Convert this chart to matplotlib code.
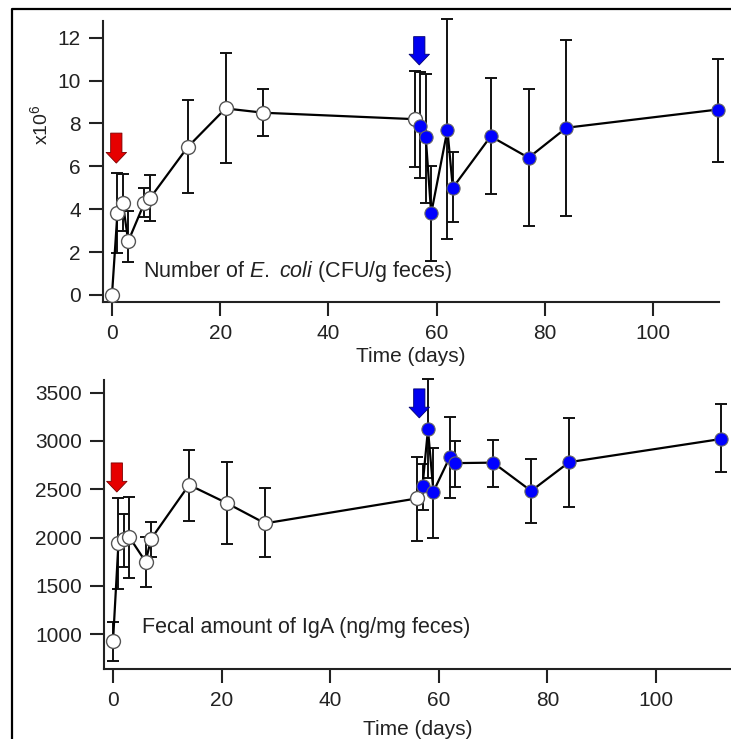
import matplotlib
matplotlib.use('Agg')
import numpy as np
import matplotlib.pyplot as plt
from matplotlib.patches import FancyArrowPatch
from matplotlib.lines import Line2D

plt.rcParams['font.family'] = ['Liberation Sans', 'DejaVu Sans']
plt.rcParams['mathtext.fontset'] = 'custom'
plt.rcParams['mathtext.rm'] = 'Liberation Sans'
plt.rcParams['mathtext.it'] = 'Liberation Sans:italic'

# days: before (white) and after (blue) the second treatment
days_pre = [0, 1, 2, 3, 6, 7, 14, 21, 28, 56]
days_post = [57, 58, 59, 62, 63, 70, 77, 84, 112]

# E. coli counts (x10^6) with lower / upper error bar ends
ecoli_pre = [0.0, 3.8, 4.3, 2.5, 4.3, 4.5, 6.9, 8.7, 8.5, 8.2]
ecoli_pre_lo = [0.0, 1.95, 3.0, 1.55, 3.65, 3.45, 4.75, 6.15, 7.4, 5.95]
ecoli_pre_hi = [0.0, 5.7, 5.65, 3.9, 5.0, 5.6, 9.1, 11.3, 9.6, 10.45]
ecoli_post = [7.9, 7.35, 3.8, 7.7, 5.0, 7.4, 6.4, 7.8, 8.65]
ecoli_post_lo = [5.45, 4.3, 1.6, 2.6, 3.4, 4.7, 3.2, 3.7, 6.2]
ecoli_post_hi = [10.4, 10.3, 6.0, 12.85, 6.65, 10.1, 9.6, 11.9, 11.0]

# IgA amounts (ng/mg feces)
iga_pre = [928, 1940, 1980, 2005, 1750, 1985, 2545, 2355, 2147, 2405]
iga_pre_lo = [727, 1463, 1694, 1584, 1484, 1801, 2174, 1930, 1795, 1964]
iga_pre_hi = [1125, 2405, 2245, 2420, 2008, 2164, 2905, 2785, 2510, 2835]
iga_post = [2535, 3120, 2475, 2830, 2770, 2775, 2482, 2780, 3020]
iga_post_lo = [2285, 2613, 1992, 2412, 2526, 2526, 2147, 2313, 2675]
iga_post_hi = [2758, 3645, 2924, 3252, 3000, 3010, 2810, 3235, 3380]

# treatment arrows: (day, top, tip)
ecoli_arrows = [(0.8, 7.55, 6.15, '#e60000', '#7a0000'), (56.8, 12.05, 10.73, '#0000f0', '#000070')]
iga_arrows = [(0.7, 2772, 2471, '#e60000', '#7a0000'), (56.4, 3538, 3238, '#0000f0', '#000070')]

fig = plt.figure(figsize=(7.31, 7.39), dpi=100)

# outer frame: only its left and top edges are in the picture
fx, fy = 12 / 731, 1 - 9 / 739
fig.lines.append(Line2D([fx, fx, 1.0], [0.0, fy, fy], transform=fig.transFigure,
                        color='black', linewidth=1.6))


def panel(ax, pre, pre_lo, pre_hi, post, post_lo, post_hi, arrows, lpad):
    days = days_pre + days_post
    vals = pre + post
    ax.plot(days, vals, color='black', lw=1.6, zorder=2, clip_on=False)
    lo = np.array(pre + post) - np.array(pre_lo + post_lo)
    hi = np.array(pre_hi + post_hi) - np.array(pre + post)
    eb = ax.errorbar(days, vals, yerr=[lo, hi], fmt='none', ecolor='#111111',
                     elinewidth=1.4, capsize=4.3, capthick=1.4, zorder=1)
    for c in eb[1] + eb[2]:
        c.set_clip_on(False)
    ax.plot(days_pre, pre, 'o', ms=10, mfc='white', mec='#555555', mew=1.0,
            zorder=3, clip_on=False)
    ax.plot(days_post, post, 'o', ms=9.5, mfc='#0000ff', mec='#666666', mew=0.8,
            zorder=3, clip_on=False)
    for x, y0, y1, fc, ec in arrows:
        ar = FancyArrowPatch((x, y0), (x, y1),
                             arrowstyle='simple,head_length=0.55,head_width=1.05,tail_width=0.58',
                             mutation_scale=14, facecolor=fc, edgecolor=ec,
                             linewidth=0.6, shrinkA=0, shrinkB=0, zorder=4)
        ax.add_patch(ar)
    for s in ['top', 'right']:
        ax.spines[s].set_visible(False)
    for s in ['left', 'bottom']:
        ax.spines[s].set_linewidth(1.5)
        ax.spines[s].set_color('#222222')
    ax.tick_params(direction='out', length=10, width=1.5, color='#222222',
                   labelsize=15, pad=6, labelcolor='#222222')
    ax.set_xticks([0, 20, 40, 60, 80, 100])
    ax.set_xlabel('Time (days)', fontsize=15, labelpad=lpad, color='#222222')


ax1 = fig.add_axes([103 / 731, (739 - 302) / 739, 616 / 731, 281 / 739])
panel(ax1, ecoli_pre, ecoli_pre_lo, ecoli_pre_hi,
      ecoli_post, ecoli_post_lo, ecoli_post_hi, ecoli_arrows, 3)
ax1.set_xlim(-1.66, 112.2)
ax1.set_ylim(-0.33, 12.78)
ax1.set_yticks([0, 2, 4, 6, 8, 10, 12])
ax1.text(5.7, 1.07, r'Number of $E.$ $coli$ (CFU/g feces)', fontsize=15.5,
         ha='left', va='center', color='#222222')
fig.text(40 / 731, 1 - 125 / 739, r'x10$^6$', rotation=90, fontsize=14,
         ha='center', va='center', color='#222222')

ax2 = fig.add_axes([104 / 731, (739 - 669) / 739, 627 / 731, 289 / 739])
panel(ax2, iga_pre, iga_pre_lo, iga_pre_hi,
      iga_post, iga_post_lo, iga_post_hi, iga_arrows, 7)
ax2.set_xlim(-1.66, 113.8)
ax2.set_ylim(640, 3630)
ax2.set_yticks([1000, 1500, 2000, 2500, 3000, 3500])
ax2.text(5.4, 1072, 'Fecal amount of IgA (ng/mg feces)', fontsize=15.5,
         ha='left', va='center', color='#222222')

plt.savefig('out.png', dpi=100)
